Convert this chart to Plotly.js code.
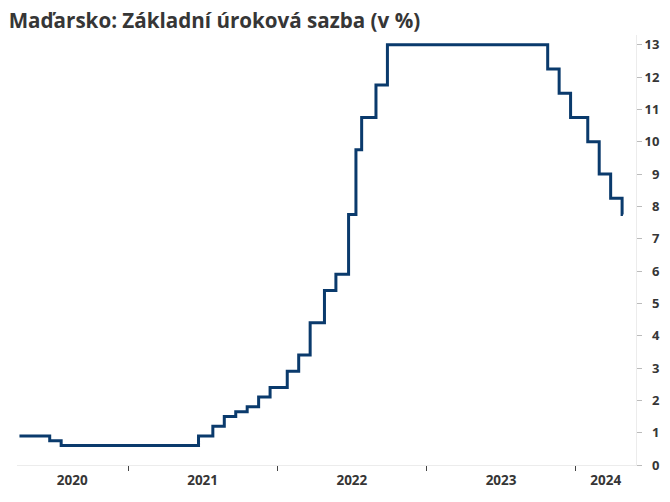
<!DOCTYPE html>
<html>
<head>
<meta charset="utf-8">
<script src="https://cdn.plot.ly/plotly-3.0.1.min.js"></script>
<style>html,body{margin:0;padding:0;background:#fff;}#chart{width:670px;height:502px;}</style>
</head>
<body>
<div id="chart"></div>
<script>
// Dates of changes of the MNB base rate and the rate in force from that date
const dates = ['2020-04-10','2020-06-23','2020-07-21','2021-06-22','2021-07-27','2021-08-24','2021-09-21','2021-10-19','2021-11-16','2021-12-14','2022-01-25','2022-02-22','2022-03-22','2022-04-26','2022-05-24','2022-06-24','2022-07-12','2022-07-26','2022-08-30','2022-09-27','2023-10-24','2023-11-21','2023-12-19','2024-01-30','2024-02-27','2024-03-26','2024-04-23','2024-04-25'];
const rates = [0.9,0.75,0.6,0.9,1.2,1.5,1.65,1.8,2.1,2.4,2.9,3.4,4.4,5.4,5.9,7.75,9.75,10.75,11.75,13.0,12.25,11.5,10.75,10.0,9.0,8.25,7.75,7.75];

const xRange = ['2020-04-04','2024-05-27'];
const yearTicks = ['2021-01-01','2022-01-01','2023-01-01','2024-01-01'];
const yearLabelPos = ['2020-08-17','2021-07-02','2022-07-02','2023-07-02','2024-03-14'];
const yearLabels = ['2020','2021','2022','2023','2024'];
const yTickVals = [0,1,2,3,4,5,6,7,8,9,10,11,12,13];
const yTickText = ['\u20070','\u20071','\u20072','\u20073','\u20074','\u20075','\u20076','\u20077','\u20078','\u20079','10','11','12','13'];

const font = '"Open Sans", "Noto Sans", sans-serif';
const data = [{
  x: dates, y: rates, type: 'scatter', mode: 'lines',
  line: {shape: 'hv', color: '#0a3a6c', width: 3},
  hoverinfo: 'skip', xaxis: 'x', yaxis: 'y'
}, {
  // carrier for the year-label axis (no visible marks)
  x: yearLabelPos, y: yearLabels.map(() => null), type: 'scatter', mode: 'lines',
  line: {width: 0}, hoverinfo: 'skip', xaxis: 'x2', yaxis: 'y', showlegend: false
}];

const layout = {
  width: 670, height: 502,
  margin: {l: 17, r: 34, t: 35, b: 37},
  paper_bgcolor: '#fff', plot_bgcolor: '#fff',
  showlegend: false,
  title: {
    text: 'Maďarsko: Základní úroková sazba (v %)',
    font: {family: font, size: 20.6, color: '#363636', weight: 700},
    xref: 'container', yref: 'container', x: 0.013, xanchor: 'left', y: 0.958, yanchor: 'middle'
  },
  xaxis: {
    type: 'date', range: xRange, showgrid: false, zeroline: false,
    showline: true, linecolor: '#ececec', linewidth: 1,
    tickmode: 'array', tickvals: yearTicks, showticklabels: false,
    ticks: 'outside', ticklen: 5, tickcolor: '#444', tickwidth: 1
  },
  xaxis2: {
    type: 'date', range: xRange, overlaying: 'x', anchor: 'y', side: 'bottom',
    showgrid: false, zeroline: false, showline: false,
    tickmode: 'array', tickvals: yearLabelPos, ticktext: yearLabels, ticks: '',
    ticklabelstandoff: 5,
    tickfont: {family: font, size: 13.5, color: '#363636', weight: 700}
  },
  yaxis: {
    side: 'right', range: [0, 13.3], showgrid: false, zeroline: false,
    showline: true, linecolor: '#ececec', linewidth: 1,
    tickmode: 'array', tickvals: yTickVals, ticktext: yTickText,
    ticks: 'outside', ticklen: 5, tickcolor: '#bbbbbb', tickwidth: 1,
    tickfont: {family: font, size: 13, color: '#363636', weight: 700}
  }
};

Plotly.newPlot('chart', data, layout, {staticPlot: true, displayModeBar: false});
</script>
</body>
</html>
